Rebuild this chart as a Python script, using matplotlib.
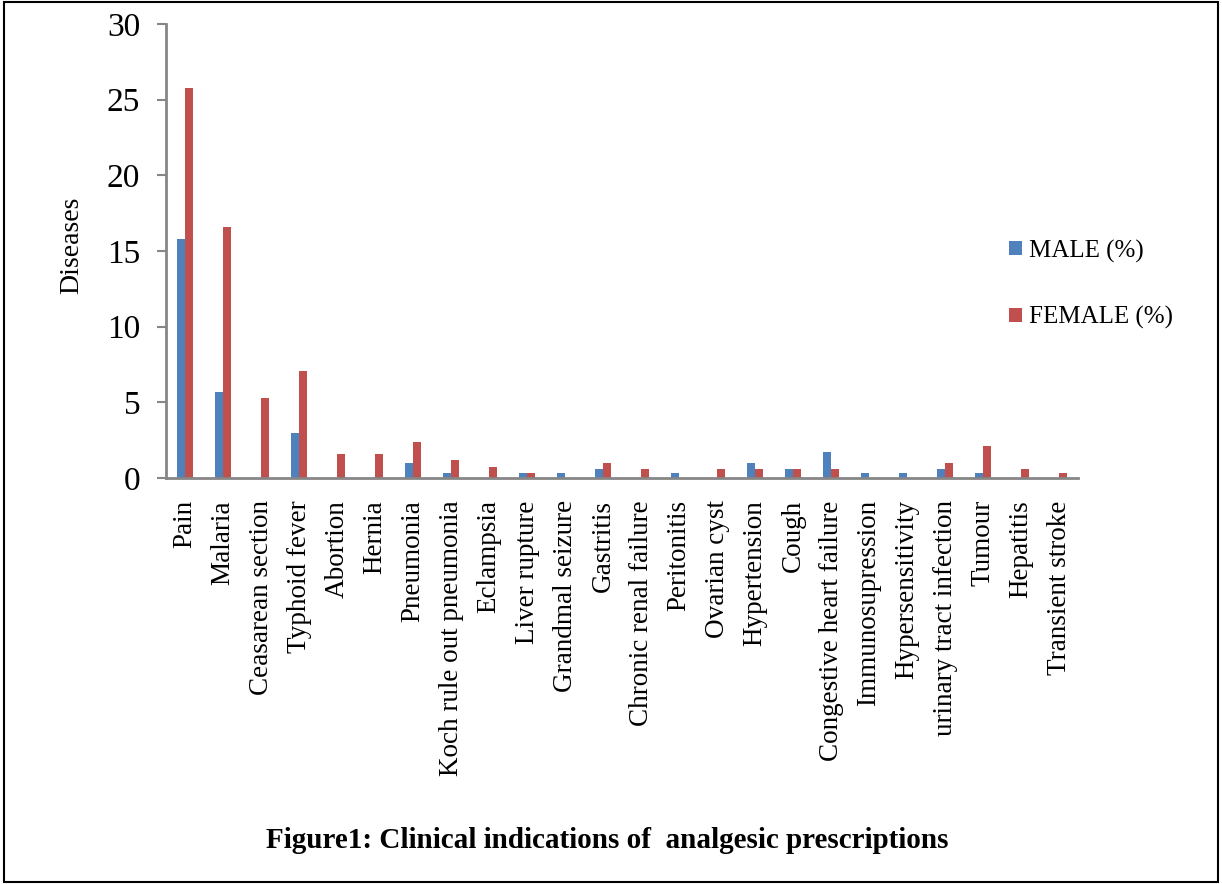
import numpy as np
import matplotlib.pyplot as plt
from matplotlib.patches import Rectangle

plt.rcParams['font.family'] = ['Liberation Serif', 'DejaVu Serif']

diseases = ['Pain', 'Malaria', 'Ceasarean section', 'Typhoid fever', 'Abortion',
            'Hernia', 'Pneumonia', 'Koch rule out pneumonia', 'Eclampsia',
            'Liver rupture', 'Grandmal seizure', 'Gastritis', 'Chronic renal failure',
            'Peritonitis', 'Ovarian cyst', 'Hypertension', 'Cough',
            'Congestive heart failure', 'Immunosupression', 'Hypersensitivity',
            'urinary tract infection', 'Tumour', 'Hepatitis', 'Transient stroke']
male = [15.8, 5.7, 0, 3.0, 0, 0, 1.0, 0.3, 0, 0.3, 0.3, 0.6, 0, 0.3, 0,
        1.0, 0.6, 1.7, 0.3, 0.3, 0.6, 0.3, 0, 0]
female = [25.8, 16.6, 5.3, 7.1, 1.6, 1.6, 2.4, 1.2, 0.7, 0.3, 0, 1.0, 0.6, 0,
          0.6, 0.6, 0.6, 0.6, 0, 0, 1.0, 2.1, 0.6, 0.3]

fig = plt.figure(figsize=(12.22, 8.84), dpi=100)
ax = fig.add_axes([166/1222, 1 - 478/884, (1078-166)/1222, (478-24)/884])

x = np.arange(len(diseases))
w = 0.2
ax.bar(x - w/2, male, w, color='#4F81BD', label='MALE (%)')
ax.bar(x + w/2, female, w, color='#C0504D', label='FEMALE (%)')

ax.set_xlim(-0.5, len(diseases) - 0.5)
ax.set_ylim(0, 30)
ax.set_yticks(range(0, 31, 5))
ax.tick_params(axis='y', labelsize=24, length=6.5, width=1.5, color='#868686', pad=12)
ax.tick_params(axis='x', length=0, pad=16)
ax.set_xticks(x)
ax.set_xticklabels(diseases, rotation=90, fontsize=19.5)
for s in ['top', 'right']:
    ax.spines[s].set_visible(False)
for s in ['left', 'bottom']:
    ax.spines[s].set_color('#868686')
    ax.spines[s].set_linewidth(2)
ax.set_ylabel('Diseases', fontsize=20)
ax.yaxis.set_label_coords(-0.09, 0.513)

ax.legend(loc='upper left', bbox_to_anchor=(0.9, 0.575), frameon=False,
          fontsize=18, handlelength=0.5, handleheight=0.5,
          labelspacing=1.75, handletextpad=0.3)

fig.text(607/1222, 1 - 840/884, 'Figure1: Clinical indications of  analgesic prescriptions',
         ha='center', va='center', fontsize=21, fontweight='bold')

fig.patches.append(Rectangle((0.003, 0.002), 0.994, 0.996, transform=fig.transFigure,
                             fill=False, edgecolor='black', linewidth=1.5))

fig.savefig('out.png', dpi=100)
